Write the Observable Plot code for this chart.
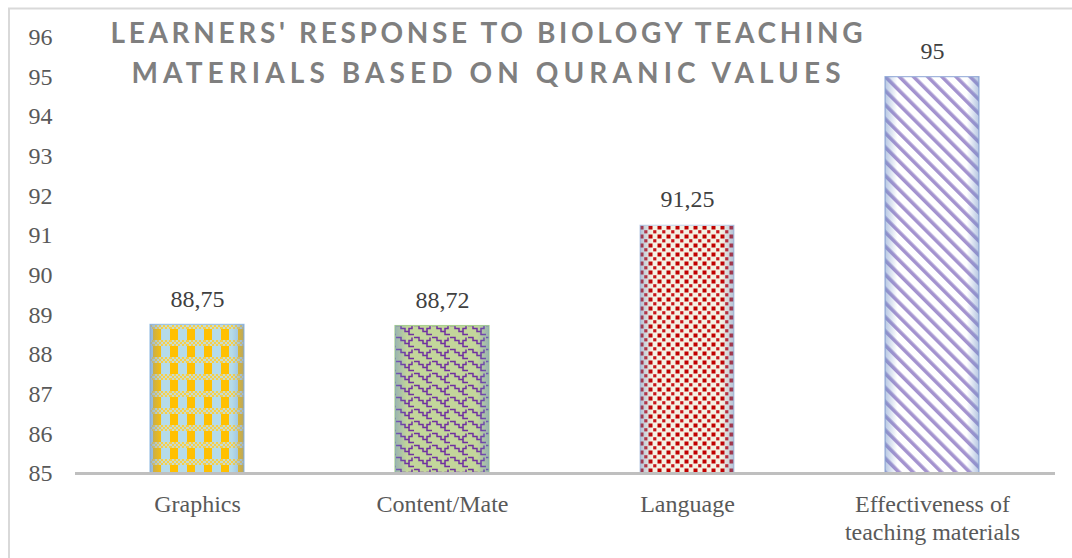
<!DOCTYPE html>
<html><head><meta charset="utf-8">
<script src="https://cdn.jsdelivr.net/npm/d3@7"></script>
<script src="https://cdn.jsdelivr.net/npm/@observablehq/plot@0.6"></script>
<style>body{margin:0;background:#fff;overflow:hidden}</style>
</head><body><div id="chart"></div>
<script>
// ---- data ----
const categories = ["Graphics", "Content/Mate", "Language", "Effectiveness of teaching materials"];
const tickLabels = ["Graphics", "Content/Mate", "Language", "Effectiveness of\nteaching materials"];
const values = [88.75, 88.72, 91.25, 95];
const yTicks = [85, 86, 87, 88, 89, 90, 91, 92, 93, 94, 95, 96];
const yDomain = [85, 96];
const titleLines = ["LEARNERS' RESPONSE TO BIOLOGY TEACHING", "MATERIALS BASED ON QURANIC VALUES"];

// ---- styles ----
const patternFills = ["url(#pGraphics)", "url(#pContent)", "url(#pLanguage)", "url(#pEffect)"];
const strokes = ["#9dc3e6", "#a9d18e", "#c9d6ea", "#9fb4dc"];

const data = categories.map((c, i) => ({category: c, value: values[i]}));

const plot = Plot.plot({
  width: 1072, height: 558,
  marginTop: 37, marginBottom: 85, marginLeft: 75, marginRight: 17,
  style: {fontFamily: "'Liberation Serif', serif", fontSize: "24px", color: "#595959", background: "transparent"},
  x: {domain: categories, paddingInner: 0.616, paddingOuter: 0.308, label: null},
  y: {domain: yDomain, label: null},
  color: {type: "identity"},
  marks: [
    Plot.barY(data, {x: "category", y1: yDomain[0], y2: "value", fill: (d, i) => patternFills[i], stroke: (d, i) => strokes[i], strokeWidth: 1.2}),
    Plot.barY(data, {x: "category", y1: yDomain[0], y2: "value", fill: "url(#edgeGlow)"}),
    Plot.ruleY([yDomain[0]], {stroke: "#bfbfbf", strokeWidth: 3}),
    Plot.axisY({ticks: yTicks, tickSize: 0, tickPadding: 23, tickFormat: d => String(d), fill: "#595959"}),
    Plot.axisX({tickSize: 0, tickPadding: 19, tickFormat: d => tickLabels[categories.indexOf(d)], lineHeight: 28 / 24, fill: "#595959"}),
    Plot.text(data, {x: "category", y: "value", text: d => String(d.value).replace(".", ","), dy: -26, fill: "#404040"}),
    Plot.text([titleLines[0]], {frameAnchor: "top", textAnchor: "middle", lineAnchor: "middle", dx: -79, dy: -3, text: d => d,
      fontFamily: "Lato", fontWeight: 700, fontSize: 28, fill: "#7f7f7f"}),
    Plot.text([titleLines[1]], {frameAnchor: "top", textAnchor: "middle", lineAnchor: "middle", dx: -79.5, dy: 37, text: d => d,
      fontFamily: "Lato", fontWeight: 700, fontSize: 28, fill: "#7f7f7f"})
  ]
});

const svg = d3.select(plot);
const titleWidths = [752, 709];
svg.selectAll("text").filter(function () { return this.textContent === titleLines[0]; })
  .attr("textLength", titleWidths[0]).attr("lengthAdjust", "spacing");
svg.selectAll("text").filter(function () { return this.textContent === titleLines[1]; })
  .attr("textLength", titleWidths[1]).attr("lengthAdjust", "spacing");

// chart border
svg.insert("rect", ":first-child").attr("x", 9).attr("y", 8.5).attr("width", 1100).attr("height", 600)
  .attr("fill", "none").attr("stroke", "#d9d9d9").attr("stroke-width", 2);

const defs = svg.insert("defs", ":first-child");
// Graphics: plaid yellow / light blue
const p1 = defs.append("pattern").attr("id", "pGraphics").attr("patternUnits", "userSpaceOnUse").attr("width", 17).attr("height", 17);
p1.append("rect").attr("width", 17).attr("height", 17).attr("fill", "#b5dbe9");
p1.append("rect").attr("width", 8).attr("height", 17).attr("fill", "#ffc000");
for (let yy = 0; yy < 6; yy += 2) for (let xx = 0; xx < 17; xx += 2) {
  p1.append("rect").attr("x", xx).attr("y", yy).attr("width", 2).attr("height", 2)
    .attr("fill", ((xx + yy) / 2) % 2 === 0 ? "#f6cf4a" : "#c6dcd0");
}
// Content: green with purple staircase weave
const p2 = defs.append("pattern").attr("id", "pContent").attr("patternUnits", "userSpaceOnUse").attr("width", 18).attr("height", 12);
p2.append("rect").attr("width", 18).attr("height", 12).attr("fill", "#c3d69b");
p2.append("path").attr("d", "M0,1.5 h5 v3 h4 v3 h4 v3 h5").attr("fill", "none").attr("stroke", "#7030a0").attr("stroke-width", 1.5);
p2.append("path").attr("d", "M13,7.5 v-3 h3 v-3").attr("fill", "none").attr("stroke", "#7030a0").attr("stroke-width", 1.5);
// Language: cream with red squares
const p3 = defs.append("pattern").attr("id", "pLanguage").attr("patternUnits", "userSpaceOnUse").attr("width", 9).attr("height", 9);
p3.append("rect").attr("width", 9).attr("height", 9).attr("fill", "#f4f1e4");
p3.append("rect").attr("x", 0.5).attr("y", 0.5).attr("width", 4).attr("height", 4).attr("fill", "#c00000");
p3.append("rect").attr("x", 5.2).attr("y", 5.2).attr("width", 3.2).attr("height", 3.2).attr("fill", "#c8141a");
// Effectiveness: diagonal purple stripes
const p4 = defs.append("pattern").attr("id", "pEffect").attr("patternUnits", "userSpaceOnUse").attr("width", 10).attr("height", 10).attr("patternTransform", "rotate(-45)");
p4.append("rect").attr("width", 10).attr("height", 10).attr("fill", "#ffffff");
p4.append("rect").attr("width", 3.6).attr("height", 10).attr("fill", "#a493cf");
// edge glow
const g = defs.append("linearGradient").attr("id", "edgeGlow").attr("x1", 0).attr("x2", 1).attr("y1", 0).attr("y2", 0);
[[0, 0.5], [0.13, 0], [0.87, 0], [1, 0.5]].forEach(([o, a]) => g.append("stop").attr("offset", o).attr("stop-color", "#6f8fc7").attr("stop-opacity", a));

document.getElementById("chart").appendChild(plot);
</script>
</body></html>
